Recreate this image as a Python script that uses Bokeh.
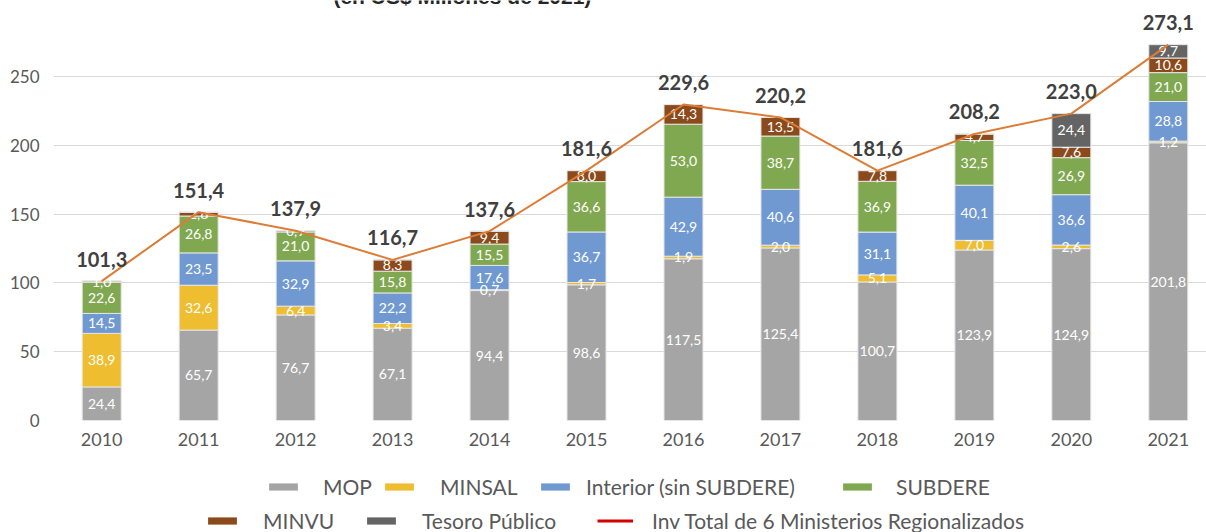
import numpy as np
from bokeh.plotting import figure
from bokeh.layouts import column
from bokeh.models import (ColumnDataSource, Range1d, FixedTicker, Legend, LegendItem, Label)
from bokeh.core.properties import value
from bokeh.embed import file_html
from bokeh.resources import INLINE

# ---- data ----
years = [2010, 2011, 2012, 2013, 2014, 2015, 2016, 2017, 2018, 2019, 2020, 2021]
mop      = [24.4, 65.7, 76.7, 67.1, 94.4, 98.6, 117.5, 125.4, 100.7, 123.9, 124.9, 201.8]
minsal   = [38.9, 32.6, 6.4, 3.4, 0.7, 1.7, 1.9, 2.0, 5.1, 7.0, 2.6, 1.2]
interior = [14.5, 23.5, 32.9, 22.2, 17.6, 36.7, 42.9, 40.6, 31.1, 40.1, 36.6, 28.8]
subdere  = [22.6, 26.8, 21.0, 15.8, 15.5, 36.6, 53.0, 38.7, 36.9, 32.5, 26.9, 21.0]
minvu    = [1.0, 2.8, 0.9, 8.3, 9.4, 8.0, 14.3, 13.5, 7.8, 4.7, 7.6, 10.6]
tesoro   = [0, 0, 0, 0, 0, 0, 0, 0, 0, 0, 24.4, 9.7]
total    = [101.3, 151.4, 137.9, 116.7, 137.6, 181.6, 229.6, 220.2, 181.6, 208.2, 223.0, 273.1]

series_keys = ["mop", "minsal", "interior", "subdere", "minvu", "tesoro"]
series_names = ["MOP", "MINSAL", "Interior (sin SUBDERE)", "SUBDERE", "MINVU", "Tesoro Público"]
series_colors = ["#a5a5a5", "#eebd30", "#7099d2", "#80a850", "#8b4a1c", "#646464"]
line_name = "Inv Total de 6 Ministerios Regionalizados"
y_ticks = [0, 50, 100, 150, 200, 250]
title_text = "(en US$ Millones de 2021)"

FONT = "Lato"
NAN = float("nan")

src = ColumnDataSource(dict(year=years, mop=mop, minsal=minsal, interior=interior,
                            subdere=subdere, minvu=minvu, tesoro=tesoro, total=total))

p = figure(width=1206, height=470, output_backend="svg", toolbar_location=None,
           x_range=Range1d(2009.503, 2021.394), y_range=Range1d(0, 305.2),
           min_border_left=53, min_border_right=0, min_border_top=0, min_border_bottom=50)
p.outline_line_color = None
p.background_fill_color = "white"
p.border_fill_color = "white"

p.xgrid.grid_line_color = None
p.ygrid.grid_line_color = "#d9d9d9"
p.ygrid.grid_line_width = 1
p.ygrid.ticker = FixedTicker(ticks=y_ticks)

p.yaxis.ticker = FixedTicker(ticks=y_ticks)
p.xaxis.ticker = FixedTicker(ticks=years)
for ax in (p.xaxis[0], p.yaxis[0]):
    ax.axis_line_color = None
    ax.major_tick_line_color = None
    ax.minor_tick_line_color = None
    ax.major_label_text_font = FONT
    ax.major_label_text_color = "#595959"
p.yaxis.major_label_standoff = 8
p.xaxis.major_label_standoff = 6
p.yaxis.major_label_text_font_size = "17px"
p.xaxis.major_label_text_font_size = "18px"

renderers = p.vbar_stack(series_keys, x="year", width=0.402, source=src,
                         fill_color=series_colors, line_color="#e6e6e6", line_width=1)

# segment labels
stack = np.array([mop, minsal, interior, subdere, minvu, tesoro], dtype=float)
tops = np.cumsum(stack, axis=0)
bottoms = tops - stack
lx, ly, lt = [], [], []
for i in range(stack.shape[0]):
    for j, yr in enumerate(years):
        v = stack[i, j]
        if v > 0:
            lx.append(yr)
            ly.append((tops[i, j] + bottoms[i, j]) / 2)
            lt.append(f"{v:.1f}".replace(".", ","))
seg_src = ColumnDataSource(dict(x=lx, y=ly, t=lt))
p.text(x="x", y="y", text="t", source=seg_src, text_color="white",
       text_font=value(FONT), text_font_size="14px", text_align="center",
       text_baseline="middle")

# total line
p.line(x="year", y="total", source=src, line_color="#dd7c35", line_width=2)

# total labels
tot_src = ColumnDataSource(dict(x=years, y=total,
                                t=[f"{v:.1f}".replace(".", ",") for v in total]))
p.text(x="x", y="y", text="t", source=tot_src, text_color="#404040",
       text_font=value(FONT), text_font_style="bold", text_font_size="20px",
       text_align="center", text_baseline="middle", y_offset=-22)

# title fragment (cut off at top in reference)
p.add_layout(Label(x=2013.72, y=308.2, text=title_text, text_font="Liberation Sans",
                   text_font_style="bold", text_font_size="21px", text_color="#262626",
                   text_align="center", text_baseline="middle"))

# ---- legend strip ----
pl = figure(width=1206, height=62, output_backend="svg", toolbar_location=None,
            x_range=Range1d(0, 1), y_range=Range1d(0, 1),
            x_axis_location=None, y_axis_location=None,
            min_border_left=53, min_border_right=0, min_border_top=0, min_border_bottom=0)
pl.outline_line_color = None
pl.xgrid.visible = False
pl.ygrid.visible = False
proxies = [pl.vbar(x=[NAN], top=[NAN], width=0.4, fill_color=c, line_color=None)
           for c in series_colors]
proxies.append(pl.line(x=[NAN, NAN], y=[NAN, NAN], line_color="#d40000", line_width=3))
names = series_names + [line_name]

FRAME_LEFT = 53
# (swatch left px on page, label standoff, row)
leg_pos = [(265, 22, 1), (381, 23, 1), (537, 13, 1), (839, 21, 1),
           (204, 23, 2), (363, 23, 2), (597, 19, 2)]
for r, name, (xpix, standoff, row) in zip(proxies, names, leg_pos):
    lg = Legend(items=[LegendItem(label=name, renderers=[r])],
                location=(xpix - FRAME_LEFT, 33 if row == 1 else -1),
                orientation="horizontal", padding=0, margin=0, spacing=0,
                glyph_width=36, glyph_height=9, label_standoff=standoff,
                label_text_font=FONT, label_text_font_size="21px",
                label_text_color="#595959", border_line_color=None,
                background_fill_alpha=0)
    pl.add_layout(lg)

layout = column(p, pl, spacing=0)
layout.styles = {"position": "absolute", "top": "0px", "left": "0px"}

open("out.html", "w").write(file_html(layout, INLINE))
